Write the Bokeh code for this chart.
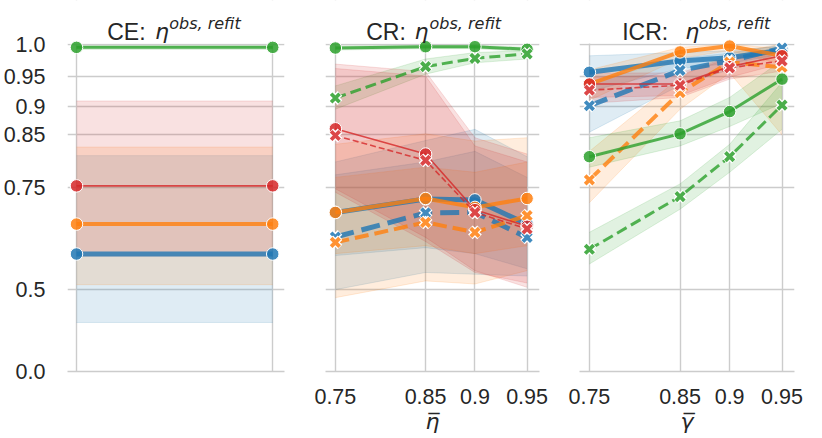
import numpy as np
from bokeh.plotting import figure
from bokeh.layouts import row
from bokeh.models import ColumnDataSource, Range1d, FixedTicker, CustomJSTransform
from bokeh.transform import transform
from bokeh.core.properties import value
from bokeh.embed import file_html
from bokeh.resources import INLINE

BLUE, ORANGE, GREEN, RED = "#1f77b4", "#ff7f0e", "#2ca02c", "#d62728"
TXT = "#262626"
GRID = "#cccccc"

# tick values / labels (axes use a squared scale)
ytick_values = [0.0, 0.5, 0.75, 0.85, 0.9, 0.95, 1.0]
ytick_labels = ["0.0", "0.5", "0.75", "0.85", "0.9", "0.95", "1.0"]
xtick_values = [0.75, 0.85, 0.9, 0.95]
xtick_labels = ["0.75", "0.85", "0.9", "0.95"]

# ---------------- CE panel ----------------
ce_x = [0, 1]
ce_blue = [0.599, 0.599]
ce_blue_lo = [0.387, 0.387]
ce_blue_hi = [0.812, 0.812]
ce_orange = [0.671, 0.671]
ce_orange_lo = [0.515, 0.515]
ce_orange_hi = [0.828, 0.828]
ce_green = [0.995, 0.995]
ce_green_lo = [0.992, 0.992]
ce_green_hi = [0.997, 0.997]
ce_red = [0.753, 0.753]
ce_red_lo = [0.594, 0.594]
ce_red_hi = [0.909, 0.909]

# ---------------- CR panel ----------------
cr_x = [0.75, 0.85, 0.9, 0.95]
cr_blue = [0.697, 0.726, 0.724, 0.671]
cr_blue_lo = [0.595, 0.615, 0.600, 0.560]
cr_blue_hi = [0.800, 0.840, 0.860, 0.810]
cr_blue_d = [0.641, 0.696, 0.697, 0.640]
cr_blue_d_lo = [0.500, 0.550, 0.545, 0.540]
cr_blue_d_hi = [0.775, 0.800, 0.820, 0.770]
cr_orange = [0.697, 0.727, 0.708, 0.727]
cr_orange_lo = [0.600, 0.620, 0.600, 0.620]
cr_orange_hi = [0.833, 0.852, 0.839, 0.845]
cr_orange_d = [0.628, 0.675, 0.652, 0.690]
cr_orange_d_lo = [0.475, 0.526, 0.517, 0.555]
cr_orange_d_hi = [0.770, 0.790, 0.780, 0.800]
cr_green = [0.994, 0.996, 0.996, 0.992]
cr_green_lo = [0.991, 0.993, 0.993, 0.989]
cr_green_hi = [0.997, 0.998, 0.998, 0.995]
cr_green_d = [0.914, 0.965, 0.978, 0.985]
cr_green_d_lo = [0.895, 0.953, 0.971, 0.977]
cr_green_d_hi = [0.934, 0.977, 0.987, 0.990]
cr_red = [0.861, 0.815, 0.703, 0.666]
cr_red_lo = [0.747, 0.640, 0.555, 0.507]
cr_red_hi = [0.969, 0.957, 0.845, 0.815]
cr_red_d = [0.849, 0.803, 0.697, 0.660]
cr_red_d_lo = [0.740, 0.630, 0.550, 0.520]
cr_red_d_hi = [0.962, 0.950, 0.830, 0.800]

# ---------------- ICR panel ----------------
icr_x = [0.75, 0.85, 0.9, 0.95]
icr_blue = [0.956, 0.974, 0.979, 0.991]
icr_blue_lo = [0.925, 0.962, 0.970, 0.985]
icr_blue_hi = [0.982, 0.987, 0.990, 0.997]
icr_blue_d = [0.901, 0.959, 0.974, 0.994]
icr_blue_d_lo = [0.855, 0.935, 0.960, 0.987]
icr_blue_d_hi = [0.940, 0.978, 0.986, 0.999]
icr_orange = [0.937, 0.988, 0.997, 0.982]
icr_orange_lo = [0.910, 0.978, 0.990, 0.968]
icr_orange_hi = [0.960, 0.995, 1.000, 0.993]
icr_orange_d = [0.765, 0.923, 0.972, 0.964]
icr_orange_d_lo = [0.718, 0.895, 0.955, 0.850]
icr_orange_d_hi = [0.820, 0.948, 0.987, 1.000]
icr_green = [0.810, 0.852, 0.891, 0.945]
icr_green_lo = [0.790, 0.830, 0.865, 0.905]
icr_green_hi = [0.845, 0.875, 0.915, 0.975]
icr_green_d = [0.611, 0.731, 0.810, 0.902]
icr_green_d_lo = [0.573, 0.704, 0.780, 0.860]
icr_green_d_hi = [0.652, 0.757, 0.833, 0.940]
icr_red = [0.937, 0.937, 0.965, 0.982]
icr_red_lo = [0.915, 0.918, 0.948, 0.970]
icr_red_hi = [0.955, 0.955, 0.980, 0.992]
icr_red_d = [0.927, 0.935, 0.963, 0.974]
icr_red_d_lo = [0.905, 0.915, 0.945, 0.958]
icr_red_d_hi = [0.948, 0.952, 0.978, 0.988]

WIDTH = {BLUE: 5, ORANGE: 4, GREEN: 3, RED: 1.6}
DASH = {BLUE: "19 8", ORANGE: "14 6", GREEN: "11 5", RED: "6 3"}

sq = CustomJSTransform(v_func="return xs.map((v) => v*v)")

FRAME_H = 371
Y_TOP = 371 / 327.4          # frame also holds the title strip above 1.0
Y_DATA_TOP = 1.002


def sqr(v):
    return round(v * v, 6)


def make_fig(xr, frame_w, lb, rb, bb):
    p = figure(frame_width=frame_w, frame_height=FRAME_H, x_range=xr,
               y_range=Range1d(0, Y_TOP), output_backend="svg",
               toolbar_location=None, min_border_left=lb, min_border_right=rb,
               min_border_top=0, min_border_bottom=bb)
    p.title.visible = False
    p.outline_line_color = None
    p.background_fill_color = "white"
    p.border_fill_color = "white"
    for g in (p.xgrid, p.ygrid):
        g.grid_line_color = GRID
        g.grid_line_width = 1.4
    p.ygrid.ticker = FixedTicker(ticks=[sqr(v) for v in ytick_values])
    for ax in (p.xaxis, p.yaxis):
        ax.major_tick_line_color = None
        ax.minor_tick_line_color = None
        ax.major_label_text_font = "Liberation Sans"
        ax.major_label_text_font_size = "21.5px"
        ax.major_label_text_color = TXT
    p.xaxis.axis_line_color = GRID
    p.xaxis.axis_line_width = 1.4
    p.yaxis.axis_line_color = None
    # white strip hiding the vertical grid lines in the title area
    p.quad(left=[xr.start], right=[xr.end], bottom=[Y_DATA_TOP], top=[Y_TOP],
           fill_color="white", line_color=None)
    return p


def add_title(p, prefix, dx_prefix, dx_eta, dx_sup):
    x0, y0 = p.x_range.start, Y_TOP
    p.text(x=[x0], y=[y0], text=[prefix], x_offset=dx_prefix, y_offset=31,
           text_font=value("Liberation Sans"), text_font_size="23px",
           text_color=TXT, text_baseline="alphabetic", text_align="left")
    p.text(x=[x0], y=[y0], text=["\u03b7"], x_offset=dx_eta, y_offset=31,
           text_font=value("DejaVu Sans"), text_font_style="italic",
           text_font_size="22px", text_color=TXT, text_baseline="alphabetic",
           text_align="left")
    p.text(x=[x0], y=[y0], text=["obs, refit"], x_offset=dx_sup, y_offset=23.3,
           text_font=value("DejaVu Sans"), text_font_style="italic",
           text_font_size="16px", text_color=TXT, text_baseline="alphabetic",
           text_align="left")


def draw_series(p, x, series):
    srcs = []
    for color, dashed, m, lo, hi in series:
        srcs.append((color, dashed, ColumnDataSource(dict(x=x, y=m, lo=lo, hi=hi))))
    for color, dashed, src in srcs:
        p.varea(x=transform("x", sq), y1=transform("lo", sq), y2=transform("hi", sq),
                source=src, fill_color=color, fill_alpha=0.14)
        for f in ("lo", "hi"):
            p.line(x=transform("x", sq), y=transform(f, sq), source=src,
                   line_color=color, line_alpha=0.14, line_width=1)
    for color, dashed, src in srcs:
        kw = dict(line_color=color, line_alpha=0.8, line_width=WIDTH[color])
        if dashed:
            kw["line_dash"] = DASH[color]
        p.line(x=transform("x", sq), y=transform("y", sq), source=src, **kw)
        if dashed:
            p.scatter(x=transform("x", sq), y=transform("y", sq), source=src,
                      marker="x", size=13, line_color="white", line_width=6.5)
            p.scatter(x=transform("x", sq), y=transform("y", sq), source=src,
                      marker="x", size=12, line_color=color, line_alpha=0.85,
                      line_width=3.8)
        else:
            p.scatter(x=transform("x", sq), y=transform("y", sq), source=src,
                      marker="circle", size=12.5, fill_color=color, fill_alpha=0.85,
                      line_color="white", line_width=1)


# ---- Panel 1: CE ----
p1 = make_fig(Range1d(-0.046, 1.06), 217, 64, 20, 40)
p1.xaxis.ticker = FixedTicker(ticks=ce_x)
p1.xaxis.major_label_overrides = {0: "", 1: ""}
p1.yaxis.ticker = FixedTicker(ticks=[sqr(v) for v in ytick_values])
p1.yaxis.major_label_overrides = {sqr(v): l for v, l in zip(ytick_values, ytick_labels)}
p1.yaxis.major_label_standoff = 16
draw_series(p1, ce_x, [
    (BLUE, False, ce_blue, ce_blue_lo, ce_blue_hi),
    (ORANGE, False, ce_orange, ce_orange_lo, ce_orange_hi),
    (GREEN, False, ce_green, ce_green_lo, ce_green_hi),
    (RED, False, ce_red, ce_red_lo, ce_red_hi),
])
add_title(p1, "CE:", 39.7, 87.5, 101.7)


def setup_x(p, label):
    p.yaxis.visible = False
    p.xaxis.ticker = FixedTicker(ticks=[sqr(v) for v in xtick_values])
    p.xaxis.major_label_overrides = {sqr(v): l for v, l in zip(xtick_values, xtick_labels)}
    p.xaxis.major_label_standoff = 11
    p.xaxis.axis_label = label
    p.xaxis.axis_label_text_font = "DejaVu Sans"
    p.xaxis.axis_label_text_font_style = "italic"
    p.xaxis.axis_label_text_font_size = "22px"
    p.xaxis.axis_label_text_color = TXT
    p.xaxis.axis_label_standoff = 2


xr = (sqr(0.75) - 0.0175, sqr(0.95) + 0.022)

# ---- Panel 2: CR ----
p2 = make_fig(Range1d(*xr), 214, 21, 20, 40)
setup_x(p2, "\u03b7\u0305")
draw_series(p2, cr_x, [
    (BLUE, False, cr_blue, cr_blue_lo, cr_blue_hi),
    (BLUE, True, cr_blue_d, cr_blue_d_lo, cr_blue_d_hi),
    (ORANGE, False, cr_orange, cr_orange_lo, cr_orange_hi),
    (ORANGE, True, cr_orange_d, cr_orange_d_lo, cr_orange_d_hi),
    (GREEN, False, cr_green, cr_green_lo, cr_green_hi),
    (GREEN, True, cr_green_d, cr_green_d_lo, cr_green_d_hi),
    (RED, False, cr_red, cr_red_lo, cr_red_hi),
    (RED, True, cr_red_d, cr_red_d_lo, cr_red_d_hi),
])
add_title(p2, "CR:", 40.7, 89, 104)

# ---- Panel 3: ICR ----
p3 = make_fig(Range1d(*xr), 215, 20, 10, 40)
setup_x(p3, "\u03b3\u0305")
draw_series(p3, icr_x, [
    (BLUE, False, icr_blue, icr_blue_lo, icr_blue_hi),
    (BLUE, True, icr_blue_d, icr_blue_d_lo, icr_blue_d_hi),
    (ORANGE, False, icr_orange, icr_orange_lo, icr_orange_hi),
    (ORANGE, True, icr_orange_d, icr_orange_d_lo, icr_orange_d_hi),
    (GREEN, False, icr_green, icr_green_lo, icr_green_hi),
    (GREEN, True, icr_green_d, icr_green_d_lo, icr_green_d_hi),
    (RED, False, icr_red, icr_red_lo, icr_red_hi),
    (RED, True, icr_red_d, icr_red_d_lo, icr_red_d_hi),
])
add_title(p3, "ICR:", 42.7, 105.7, 119.3)

layout = row(p1, p2, p3)
open("out.html", "w").write(file_html(layout, INLINE))
